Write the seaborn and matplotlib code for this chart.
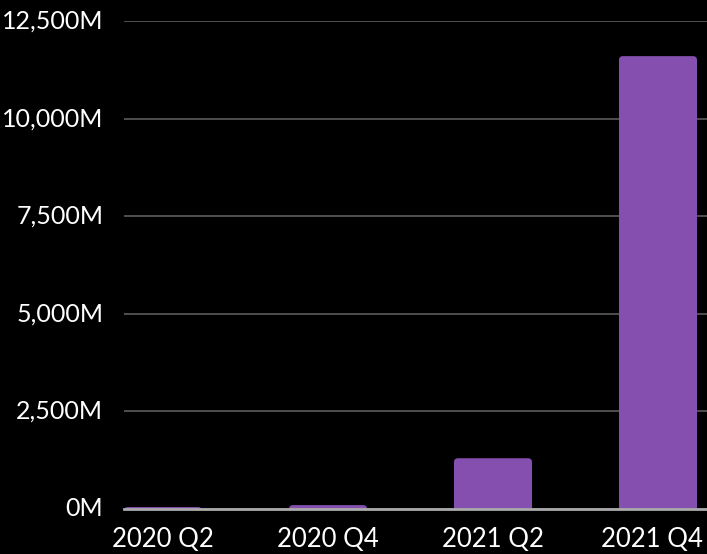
import matplotlib
matplotlib.use("Agg")
import matplotlib.pyplot as plt
import matplotlib.transforms as mtransforms
import seaborn as sns
import pandas as pd
from matplotlib.ticker import FuncFormatter, MultipleLocator
from matplotlib.patches import FancyBboxPatch

categories = ["2020 Q2", "2020 Q4", "2021 Q2", "2021 Q4"]
values_m = [50, 100, 1300, 11600]

df = pd.DataFrame({"quarter": categories, "value": values_m})

sns.set_theme(style="dark")
plt.rcParams["font.family"] = ["Lato", "DejaVu Sans"]

fig = plt.figure(figsize=(7.07, 5.54), dpi=100, facecolor="black")
ax = fig.add_axes([124 / 707, 45 / 554, 583 / 707, 488 / 554])
ax.set_facecolor("black")

sns.barplot(data=df, x="quarter", y="value", color="#854FB0", saturation=1,
            width=0.473, ax=ax, zorder=3)

ax.set_ylim(0, 12500)
ax.set_xlim(-0.2365, 3.297)

# rounded top corners: replace each bar by a rounded box extended below the axis
bar_color = "#854FB0"
x_per_px = (3.297 + 0.2365) / 583
y_per_px = 12500 / 488
aspect = y_per_px / x_per_px
for p in list(ax.patches):
    x, w, h = p.get_x(), p.get_width(), p.get_height()
    ext = 20 * y_per_px
    fb = FancyBboxPatch((x, -ext), w, h + ext,
                        boxstyle=f"round,pad=0,rounding_size={4 * x_per_px}",
                        mutation_aspect=aspect, facecolor=bar_color,
                        edgecolor="none", zorder=3, clip_on=True)
    p.remove()
    ax.add_patch(fb)

ax.yaxis.set_major_locator(MultipleLocator(2500))
ax.yaxis.set_major_formatter(FuncFormatter(lambda v, _: f"{v:,.0f}M"))
ax.grid(axis="y", color="#555555", linewidth=1.3, zorder=0)
ax.grid(axis="x", visible=False)
ax.set_xlabel("")
ax.set_ylabel("")
for s in ["top", "right", "left"]:
    ax.spines[s].set_visible(False)
ax.spines["bottom"].set_color("#aaaaaa")
ax.spines["bottom"].set_linewidth(2)
ax.spines["bottom"].set_zorder(4)
ax.tick_params(axis="both", length=0, colors="white")
ax.tick_params(axis="y", pad=15, labelsize=18)
ax.tick_params(axis="x", pad=13, labelsize=18.5)
for lab in ax.get_yticklabels():
    lab.set_verticalalignment("center")

fig.canvas.draw()
last = ax.get_xticklabels()[-1]
last.set_transform(last.get_transform() +
                   mtransforms.ScaledTranslation(-6 / 100, 0, fig.dpi_scale_trans))

fig.savefig("out.png", dpi=100, facecolor="black")
